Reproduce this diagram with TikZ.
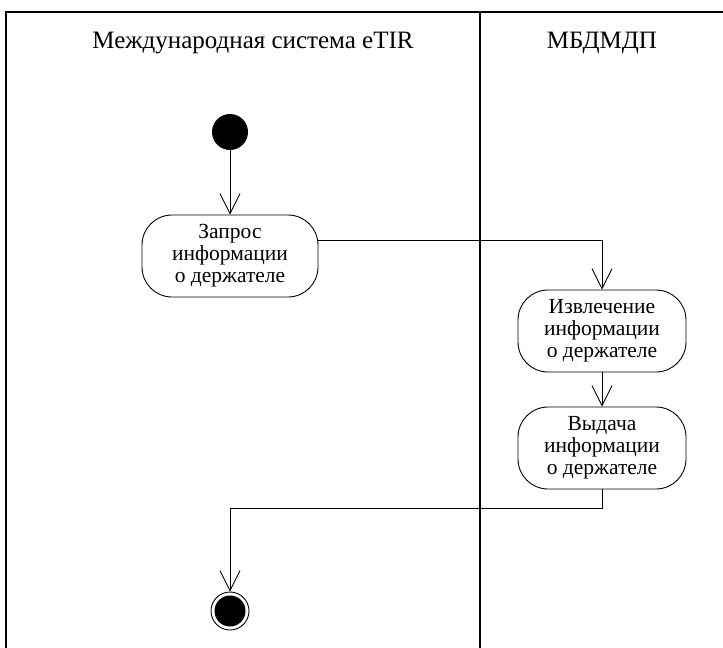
\documentclass[tikz,border=0pt]{standalone}
\usepackage{fontspec}
\setmainfont{Liberation Serif}
\usetikzlibrary{arrows.meta,positioning}
\begin{document}
\begin{tikzpicture}[x=1pt,y=-1pt,
  frame/.style={line width=1.6pt},
  act/.style={draw,line width=0.9pt,rounded corners=30pt,minimum width=176pt,minimum height=82pt,align=center,font=\fontsize{21.5}{22}\selectfont,inner sep=0pt},
  flow/.style={line width=0.9pt,-{Straight Barb[length=20pt,width=20pt,line width=0.9pt]}},
  lane/.style={font=\fontsize{25}{28}\selectfont}]
\useasboundingbox (0,0) rectangle (723,648);
\coordinate (tl) at (6,12);
\coordinate (tr) at (723,12);
\coordinate (bl) at (6,648);
\coordinate (dt) at (480,12);
\coordinate (db) at (480,648);
\draw[frame] (bl) -- (tl) -- (tr);
\draw[frame] (dt) -- (db);
\node[lane] (l1) at (253,43) {Международная система eTIR};
\node[lane] (l2) at (602,43) {МБДМДП};
\node[circle,fill=black,minimum size=36pt,inner sep=0pt] (start) at (230,132) {};
\node[act] (a1) at (230,256) {Запрос\\информации\\о держателе};
\node[act,minimum width=168pt] (a2) at (602,331) {Извлечение\\информации\\о держателе};
\node[act,minimum width=168pt] (a3) at (602,448) {Выдача\\информации\\о держателе};
\node[circle,draw,line width=0.9pt,minimum size=38pt,inner sep=0pt] (end) at (230,611) {};
\node[circle,fill=black,minimum size=31pt,inner sep=0pt] (endin) at (230,611) {};
\draw[flow] (start) -- (a1);
\draw[flow] (a1.east |- 0,240) -| (a2.north);
\draw[flow] (a2) -- (a3);
\coordinate (turn) at (602,508);
\draw[flow] (a3.south) -- (turn) -| (end.north);
\end{tikzpicture}
\end{document}
